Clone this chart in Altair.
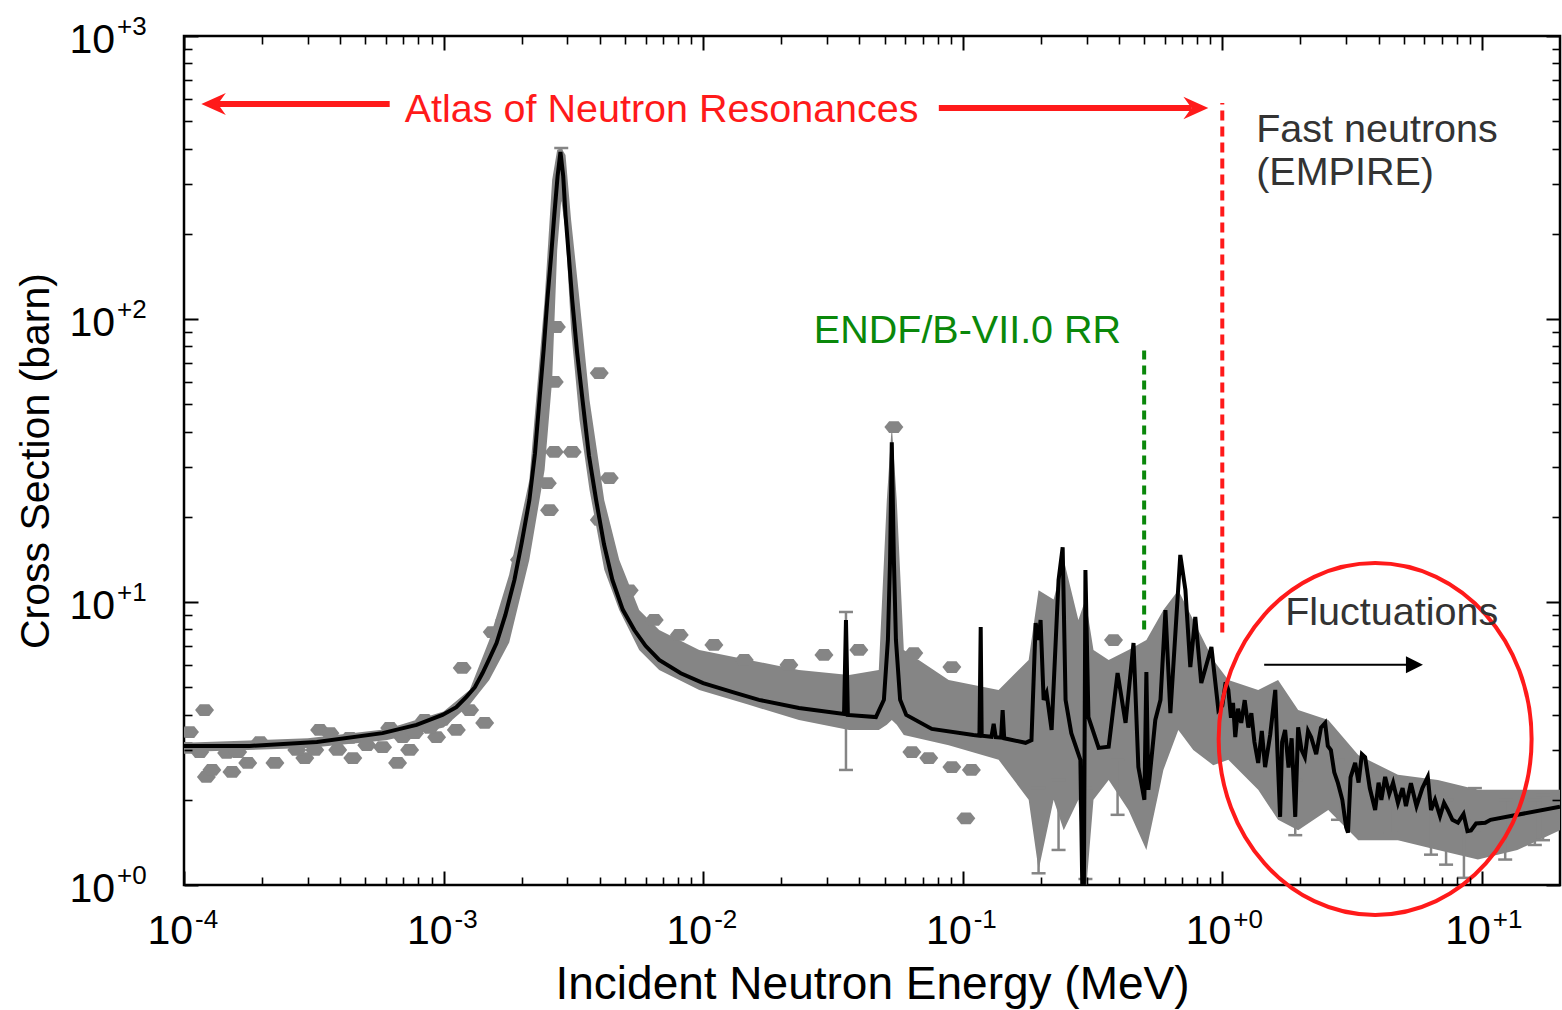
import altair as alt
import pandas as pd

FONT = "Liberation Sans"
GRAY = "#858585"
RED = "#ff1a1a"
GREEN = "#0a880a"
DARK = "#333333"

# ---------------- data ----------------
# ENDF / EMPIRE evaluated curve (energy MeV, cross section barn)
curve_E = [1e-4, 1.79e-4, 3.25e-4, 5.82e-4, 7.87e-4, 9.9e-4, 1.12e-3, 1.225e-3, 1.32e-3,
           1.413e-3, 1.5e-3, 1.60e-3, 1.73e-3, 1.875e-3, 2.0e-3, 2.14e-3, 2.25e-3, 2.34e-3,
           2.43e-3, 2.51e-3, 2.6e-3, 2.67e-3, 2.75e-3, 2.82e-3, 2.89e-3, 2.95e-3, 3.04e-3,
           3.13e-3, 3.27e-3, 3.43e-3, 3.63e-3, 3.87e-3, 4.15e-3, 4.47e-3, 4.9e-3, 5.43e-3,
           6.0e-3, 6.77e-3, 8.2e-3, 1.0e-2, 1.3e-2, 1.64e-2, 2.34e-2, 3.49e-2, 3.55e-2,
           3.61e-2, 4.63e-2, 4.97e-2, 5.15e-2, 5.25e-2, 5.33e-2, 5.43e-2, 5.53e-2, 5.74e-2,
           6.06e-2, 7.6e-2, 0.110, 0.116, 0.1173, 0.1183, 0.129, 0.1316, 0.134, 0.1405,
           0.1425, 0.1445, 0.1746, 0.184, 0.191, 0.196, 0.1995, 0.205, 0.2104, 0.22, 0.234,
           0.2427, 0.249, 0.262, 0.284, 0.292, 0.297, 0.305, 0.334, 0.365, 0.395, 0.424,
           0.455, 0.475, 0.501, 0.51, 0.519, 0.552, 0.578, 0.604, 0.631, 0.689, 0.721, 0.753,
           0.787, 0.83, 0.908, 0.966, 1.0, 1.03, 1.055, 1.08, 1.10, 1.122, 1.15, 1.183, 1.22,
           1.26, 1.294, 1.33, 1.375, 1.42, 1.462, 1.53, 1.6, 1.63, 1.67, 1.70, 1.746, 1.80,
           1.85, 1.91, 1.96, 2.02, 2.08, 2.14, 2.2, 2.3, 2.4, 2.49, 2.55, 2.62, 2.7, 2.79,
           2.9, 3.0, 3.05, 3.12, 3.25, 3.35, 3.45, 3.55, 3.7, 3.88, 4.0, 4.1, 4.24, 4.4,
           4.55, 4.75, 4.95, 5.1, 5.33, 5.6, 5.9, 6.19, 6.37, 6.6, 6.9, 7.15, 7.4, 7.7,
           8.09, 8.5, 8.8, 9.08, 9.5, 10.3, 10.8, 20.0]
curve_s = [3.10, 3.10, 3.20, 3.44, 3.68, 3.99, 4.25, 4.62, 5.0,
           5.61, 6.3, 7.16, 9.0, 11.97, 16.2, 22.9, 33.5, 51.7,
           78, 116.7, 170, 233, 320, 389, 320, 233, 165,
           116.7, 76, 51.7, 33, 22.9, 16, 11.97, 9.4, 7.96,
           7.0, 6.24, 5.6, 5.17, 4.8, 4.51, 4.22, 4.02, 8.64,
           3.99, 3.92, 4.51, 7.34, 14.1, 36.7, 14.1, 7.34, 4.51,
           3.99, 3.56, 3.39, 3.37, 8.16, 3.37, 3.34, 3.71, 3.33, 3.32,
           4.15, 3.30, 3.18, 3.25, 8.43, 7.34, 8.64, 4.51, 4.77, 3.53, 11.97,
           15.6, 4.51, 3.44, 2.77, 0.5, 12.97, 3.92, 3.05, 3.08, 5.61, 3.74,
           7.16, 2.61, 2.0, 5.66, 2.17, 3.83, 4.51, 9.37, 4.05, 14.66, 11.02, 5.89,
           8.85, 5.17, 6.93, 4.15, 4.3, 5.2, 4.89, 3.9, 4.4, 3.33, 4.2, 3.74, 4.5,
           3.6, 4.05, 3.2, 2.70, 3.5, 2.61, 3.4, 4.89, 3.0, 1.74, 3.2, 3.53, 2.6,
           3.3, 1.74, 3.61, 3.0, 2.83, 3.5, 3.33, 2.9, 3.6, 3.74, 3.1, 3.0, 2.5, 2.29,
           2.0, 1.6, 1.53, 2.4, 2.70, 2.3, 2.9, 2.83, 2.2, 1.84, 2.3, 2.0, 2.41, 2.1,
           2.3, 1.95, 2.2, 1.9, 2.29, 1.9, 2.2, 2.41, 1.84, 2.0, 1.75, 1.95, 1.84, 1.7,
           1.66, 1.78, 1.55, 1.56, 1.65, 1.66, 1.70, 1.89]

# envelope of the dense experimental data
band_E = [1e-4, 3e-4, 6e-4, 1e-3, 1.26e-3, 1.50e-3, 1.79e-3, 2.14e-3, 2.45e-3, 2.62e-3,
          2.74e-3, 2.84e-3, 2.95e-3,
          3.1e-3, 3.34e-3, 3.65e-3, 4.16e-3, 4.75e-3, 5.67e-3, 6.77e-3, 9.66e-3, 1.5e-2,
          2.34e-2, 3.65e-2, 4.75e-2, 5.1e-2, 5.33e-2, 5.57e-2, 5.93e-2, 8.83e-2, 0.1375,
          0.1795, 0.196, 0.224, 0.245, 0.279, 0.297, 0.319, 0.365, 0.435, 0.51, 0.593,
          0.677, 0.773, 0.923, 1.055, 1.375, 1.64, 1.96, 2.56, 3.34, 4.75, 6.77, 9.66,
          13.7, 20.0]
band_hi = [3.18, 3.3, 3.55, 4.1, 4.89, 7.34, 12.5, 27.0, 116.7, 310, 396, 402, 380, 224,
           116.7, 51.7, 22.9, 14.1,
           9.37, 7.96, 6.77, 6.24, 5.75, 5.52, 5.75, 22.9, 42.2, 22.9, 6.77, 5.30, 4.89, 6.24,
           11.0, 10.2, 14.1, 8.64, 10.2, 6.77, 6.24, 6.77, 7.34, 9.37, 11.0, 8.64, 6.24, 5.30,
           4.89, 5.30, 4.15, 3.83, 2.88, 2.45, 2.35, 2.17, 2.17, 2.17]
band_lo = [2.95, 3.05, 3.25, 3.6, 4.33, 5.30, 7.2, 14.1, 29.3, 60.9, 175, 263, 206, 91.4,
           44.0, 24.9, 13.0, 9.37,
           6.77, 5.75, 4.89, 4.33, 3.83, 3.53, 3.53, 3.68, 3.83, 3.68, 3.39, 3.12, 2.77, 2.0,
           1.13, 2.0, 1.56, 2.0, 0.9, 2.0, 2.35, 1.84, 1.33, 2.55, 3.53, 3.0, 2.65, 2.77,
           2.17, 1.70, 1.56, 1.84, 1.44, 1.44, 1.33, 1.23, 1.33, 1.56]

# individual experimental points (diamonds)
dia_E = [1.05e-4, 1.20e-4, 1.22e-4, 1.28e-4, 1.53e-4, 1.76e-4, 2.24e-4, 2.92e-4, 3.33e-4,
         3.65e-4, 3.91e-4, 4.47e-4, 5.82e-4, 6.2e-4, 6.65e-4, 7.4e-4, 8.45e-4, 9.4e-4,
         1.18e-3, 1.44e-3, 1.54e-3, 1.03e-4, 1.15e-4, 1.46e-4, 1.61e-4, 2.72e-4, 3.19e-4,
         5.06e-4, 6.95e-4, 9.9e-4, 1.12e-3, 1.26e-3, 1.96e-4, 4.35e-4, 7.73e-4, 8.84e-4,
         3.98e-3, 2.67e-3, 2.67e-3, 3.13e-3, 4.35e-3, 2.51e-3, 2.72e-3, 2.56e-3, 1.96e-3,
         1.72e-3, 3.98e-3, 5.19e-3, 6.48e-3, 8.09e-3,
         1.10e-2, 1.44e-2, 2.14e-2, 2.92e-2, 3.98e-2, 6.48e-2, 9.08e-2, 6.37e-2, 7.4e-2,
         9.08e-2, 0.108, 0.1028, 5.43e-2, 0.381]
dia_s = [3.47, 4.15, 2.41, 2.55, 2.51, 2.70, 2.70, 2.81, 3.53, 3.44, 3.0, 2.81, 3.07, 3.59,
         2.70, 3.0, 3.83, 3.33, 5.85, 3.74, 7.83, 3.05, 2.95, 2.93, 2.95, 3.0, 3.0, 3.12,
         3.33, 3.83, 3.53, 4.15, 3.2, 3.31, 3.44, 3.59,
         64.4, 59.9, 33.9, 33.9, 27.4, 26.3, 93.7, 21.1, 14.1, 8.64, 19.5, 11.0, 8.64, 7.65,
         7.05, 6.24, 5.99, 6.50, 6.77, 6.6, 5.89, 2.95, 2.81, 2.61, 2.55, 1.72, 41.5, 7.34]

# error bars
eb_E = [0.0355, 2.84e-3, 1.91, 4.43, 6.37, 7.28, 8.53, 9.4, 16.0, 12.3, 17.2, 2.79, 0.395,
        0.234, 0.196, 0.297]
eb_lo = [2.55, 263, 1.50, 1.53, 1.28, 1.18, 1.06, 1.56, 1.385, 1.23, 1.44, 1.70, 1.77,
         1.33, 1.1, 1.05]
eb_hi = [9.22, 402, 2.35, 2.17, 2.0, 2.0, 1.70, 2.20, 2.0, 2.0, 2.08, 2.77, 2.77, 2.35,
         2.2, 2.2]

# tick labels
xlab_vals = [1e-4, 1e-3, 1e-2, 1e-1, 1, 10]
xlab_exp = ["-4", "-3", "-2", "-1", "+0", "+1"]
ylab_vals = [1, 10, 100, 1000]
ylab_exp = ["+0", "+1", "+2", "+3"]
x_major = xlab_vals
x_minor = [k * 10.0 ** p for p in range(-4, 2) for k in range(2, 10) if k * 10.0 ** p < 20]
y_major = ylab_vals
y_minor = [k * 10.0 ** p for p in range(0, 3) for k in range(2, 10)]

# annotations
arrow_x1 = [1.35e-4, 0.0809]
arrow_x2 = [6.2e-4, 0.76]
arrow_y = [575, 557]
red_vline_E, red_vline_lo, red_vline_hi = 1.0, 7.8, 580
green_vline_E, green_vline_lo, green_vline_hi = 0.5, 8.0, 77.7

# ---------------- chart ----------------
xs = alt.Scale(type="log", domain=[1e-4, 20], nice=False)
ys = alt.Scale(type="log", domain=[1, 1000], nice=False)


def X(f="E"):
    return alt.X(f"{f}:Q", scale=xs, axis=None)


def Y(f="s"):
    return alt.Y(f"{f}:Q", scale=ys, axis=None)


band_df = pd.DataFrame({"E": band_E, "hi": band_hi, "lo": band_lo})
dia_df = pd.DataFrame({"E": dia_E, "s": dia_s})
eb_df = pd.DataFrame({"E": eb_E, "lo": eb_lo, "hi": eb_hi})
cap_df = pd.DataFrame({"E": eb_E + eb_E, "s": eb_lo + eb_hi})
curve_df = pd.DataFrame({"E": curve_E, "s": curve_s})

HEX = "M-1,0L-0.5,-0.62L0.5,-0.62L1,0L0.5,0.62L-0.5,0.62Z"
STEALTH = "M1,0L-1,-0.9L-0.35,0L-1,0.9Z"
TRI = "M1,0L-1,-1L-1,1Z"
ELLIPSE = ("M0.889,0C0.889,0.552 0.491,1 0,1C-0.491,1 -0.889,0.552 -0.889,0"
           "C-0.889,-0.552 -0.491,-1 0,-1C0.491,-1 0.889,-0.552 0.889,0Z")

band = alt.Chart(band_df).mark_area(color=GRAY, clip=True, opacity=1).encode(
    x=X(), y=Y("hi"), y2="lo:Q")
dia = alt.Chart(dia_df).mark_point(shape=HEX, filled=True, size=360, color=GRAY,
                                   opacity=1, clip=True).encode(x=X(), y=Y())
ebars = alt.Chart(eb_df).mark_rule(color=GRAY, strokeWidth=2.5, clip=True).encode(
    x=X(), y=Y("lo"), y2="hi:Q")
caps = alt.Chart(cap_df).mark_point(shape="M-1,0L1,0", size=196, color=GRAY,
                                    strokeWidth=2.5, filled=False, opacity=1,
                                    clip=True).encode(x=X(), y=Y())
line = alt.Chart(curve_df).mark_line(color="black", strokeWidth=4, clip=True).encode(
    x=X(), y=Y())

arr_df = pd.DataFrame({"x1": arrow_x1, "x2": arrow_x2, "s": arrow_y})
red_arrows = alt.Chart(arr_df).mark_rule(color=RED, strokeWidth=6).encode(
    x=X("x1"), x2="x2:Q", y=Y())
head_l = alt.Chart(pd.DataFrame({"E": [1.30e-4], "s": [575]})).mark_point(
    shape=STEALTH, angle=180, size=600, filled=True, color=RED, opacity=1).encode(x=X(), y=Y())
head_r = alt.Chart(pd.DataFrame({"E": [0.791], "s": [557]})).mark_point(
    shape=STEALTH, size=620, filled=True, color=RED, opacity=1).encode(x=X(), y=Y())

vl_df = pd.DataFrame({"E": [red_vline_E], "lo": [red_vline_lo], "hi": [red_vline_hi]})
red_v = alt.Chart(vl_df).mark_rule(color=RED, strokeWidth=4, strokeDash=[10, 6]).encode(
    x=X(), y=Y("lo"), y2="hi:Q")
gl_df = pd.DataFrame({"E": [green_vline_E], "lo": [green_vline_lo], "hi": [green_vline_hi]})
green_v = alt.Chart(gl_df).mark_rule(color=GREEN, strokeWidth=4, strokeDash=[9, 6]).encode(
    x=X(), y=Y("lo"), y2="hi:Q")

blk_df = pd.DataFrame({"x1": [1.45], "x2": [5.19], "s": [6.0]})
blk_arrow = alt.Chart(blk_df).mark_rule(color="black", strokeWidth=2).encode(
    x=X("x1"), x2="x2:Q", y=Y())
blk_head = alt.Chart(pd.DataFrame({"E": [5.50], "s": [6.0]})).mark_point(
    shape=TRI, size=289, filled=True, color="black", opacity=1).encode(x=X(), y=Y())

ellipse = alt.Chart(pd.DataFrame({"E": [3.88], "s": [3.28]})).mark_point(
    shape=ELLIPSE, size=123904, filled=False, color=RED, strokeWidth=4, opacity=1).encode(
    x=X(), y=Y())

notes_df = pd.DataFrame({
    "E": [6.92e-3, 0.0267, 1.351, 1.351, 1.747],
    "s": [497, 82.3, 422, 297, 8.29],
    "t": ["Atlas of Neutron Resonances", "ENDF/B-VII.0 RR", "Fast neutrons", "(EMPIRE)",
          "Fluctuations"],
    "c": [RED, GREEN, DARK, DARK, DARK],
    "a": ["center", "left", "left", "left", "left"],
})
note_layers = []
for i in range(len(notes_df)):
    note_layers.append(
        alt.Chart(notes_df.iloc[[i]]).mark_text(
            font=FONT, fontSize=39.5, color=notes_df["c"][i], align=notes_df["a"][i],
            baseline="alphabetic").encode(x=X(), y=Y(), text="t:N"))

xl_df = pd.DataFrame({"E": xlab_vals, "exp": xlab_exp})
yl_df = pd.DataFrame({"s": ylab_vals, "exp": ylab_exp})
xl_ten = alt.Chart(xl_df).mark_text(text="10", font=FONT, fontSize=41, align="right",
                                     baseline="alphabetic", dx=9, dy=59, color="black").encode(
    x=X(), y=alt.YDatum(1, axis=None, scale=ys))
xl_exp = alt.Chart(xl_df).mark_text(font=FONT, fontSize=26, align="left",
                                     baseline="alphabetic", dx=11, dy=43, color="black").encode(
    x=X(), y=alt.YDatum(1, axis=None, scale=ys), text="exp:N")
yl_ten = alt.Chart(yl_df).mark_text(text="10", font=FONT, fontSize=41, align="right",
                                     baseline="alphabetic", dx=-69, dy=17, color="black").encode(
    x=alt.XDatum(1e-4, axis=None, scale=xs), y=Y())
yl_exp = alt.Chart(yl_df).mark_text(font=FONT, fontSize=26, align="left",
                                     baseline="alphabetic", dx=-67, dy=-1, color="black").encode(
    x=alt.XDatum(1e-4, axis=None, scale=xs), y=Y(), text="exp:N")

dummy = pd.DataFrame({"E": [1e-3], "s": [10.0]})
common = dict(labels=False, domain=False, grid=False, ticks=True, tickColor="black", zindex=2)


def ax(orient, values, major, **kw):
    size = 14 if major else 8
    return alt.Axis(orient=orient, values=values, tickSize=size, offset=-size,
                    tickWidth=2 if major else 1.6, **common, **kw)


xt = dict(title="Incident Neutron Energy (MeV)", titleFont=FONT, titleFontSize=46,
          titleFontWeight="normal", titleColor="black", titleX=688, titleY=127,
          titleAlign="center", titleBaseline="alphabetic", titleAngle=0)
yt = dict(title="Cross Section (barn)", titleFont=FONT, titleFontSize=41,
          titleFontWeight="normal", titleColor="black", titleX=-150, titleY=424.5,
          titleAlign="center", titleBaseline="alphabetic", titleAngle=270)


def axis_layer(xa, ya):
    return alt.Chart(dummy).mark_point(opacity=0).encode(
        x=alt.X("E:Q", scale=xs, axis=xa), y=alt.Y("s:Q", scale=ys, axis=ya))


axes = [
    axis_layer(ax("bottom", x_major, True, **xt), ax("left", y_major, True, **yt)),
    axis_layer(ax("bottom", x_minor, False, title=None), ax("left", y_minor, False, title=None)),
    axis_layer(ax("top", x_major, True, title=None), ax("right", y_major, True, title=None)),
    axis_layer(ax("top", x_minor, False, title=None), ax("right", y_minor, False, title=None)),
]

chart = alt.layer(
    band, ebars, caps, dia, line,
    red_v, green_v, red_arrows, head_l, head_r, blk_arrow, blk_head, ellipse,
    *note_layers, xl_ten, xl_exp, yl_ten, yl_exp, *axes,
).resolve_scale(x="shared", y="shared").resolve_axis(
    x="independent", y="independent"
).properties(
    width=1376, height=849,
    autosize=alt.AutoSizeParams(type="none"),
    padding={"left": 184, "top": 36, "right": 2, "bottom": 125},
    background="white",
).configure_view(stroke="black", strokeWidth=2.5)

chart.save("out.html", embed_options={"renderer": "svg", "actions": False})
